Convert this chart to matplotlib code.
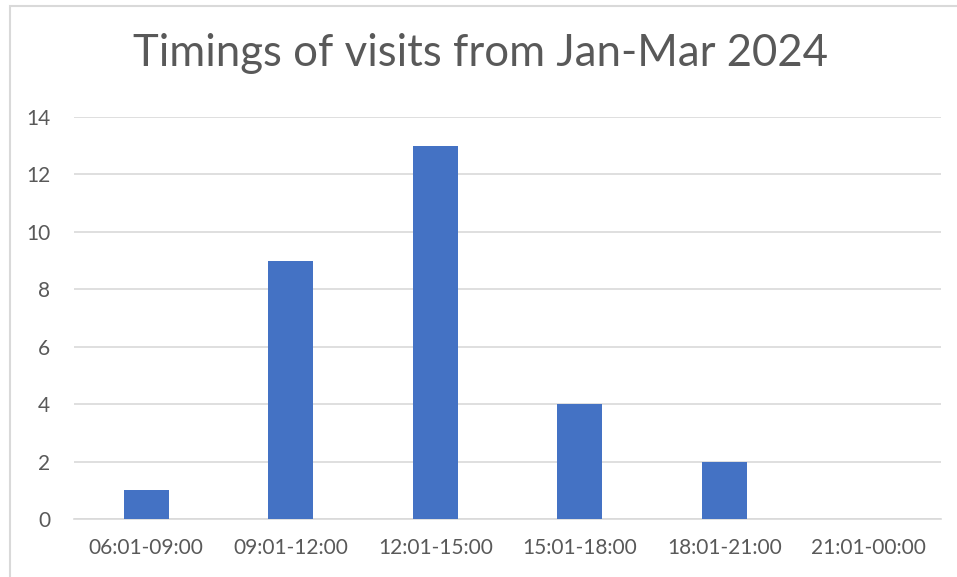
import matplotlib
matplotlib.use("Agg")
import matplotlib.pyplot as plt
from matplotlib.patches import Rectangle

categories = ["06:01-09:00", "09:01-12:00", "12:01-15:00", "15:01-18:00", "18:01-21:00", "21:01-00:00"]
visits = [1, 9, 13, 4, 2, 0]
yticks = [0, 2, 4, 6, 8, 10, 12, 14]
title = "Timings of visits from Jan-Mar 2024"

W, H = 957, 577
fig = plt.figure(figsize=(W / 100, H / 100), dpi=100)
fig.patch.set_facecolor("white")
plt.rcParams["font.family"] = ["Lato", "DejaVu Sans"]

# chart frame (cut off at right and bottom)
fig.add_artist(Rectangle((10 / W, -0.1), 1.2, (H - 6) / H + 0.1, transform=fig.transFigure,
                         fill=False, edgecolor="#d9d9d9", linewidth=1.5))

ax = fig.add_axes([74 / W, 1 - 519 / H, (941 - 74) / W, (519 - 117) / H])
x = range(len(categories))
ax.bar(x, visits, width=0.31, color="#4472c4", zorder=3)
ax.set_xlim(-0.5, len(categories) - 0.5)
ax.set_ylim(0, 14)
ax.set_yticks(yticks)
ax.set_xticks(list(x))
ax.set_xticklabels(categories)
ax.grid(axis="y", color="#d9d9d9", linewidth=1.2, zorder=0)
for s in ["top", "right", "left"]:
    ax.spines[s].set_visible(False)
ax.spines["bottom"].set_color("#d9d9d9")
ax.spines["bottom"].set_linewidth(1.2)
ax.tick_params(axis="both", length=0, labelsize=15, colors="#595959")
ax.tick_params(axis="x", pad=14)
ax.tick_params(axis="y", pad=17)

fig.text(0.5 + 2 / W, 1 - 54 / H, title, ha="center", va="center", fontsize=31.5, color="#595959")

fig.savefig("out.png", dpi=100, facecolor="white")
